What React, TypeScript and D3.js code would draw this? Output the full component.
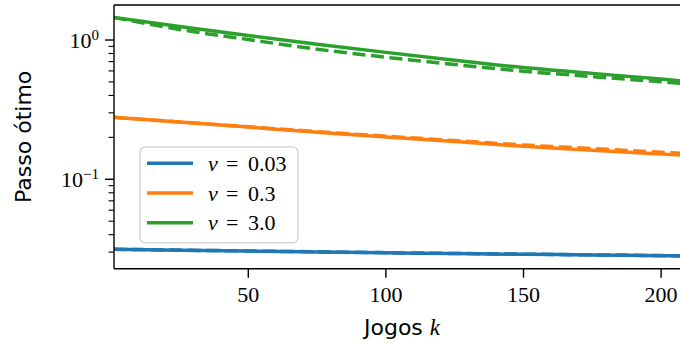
import React, { useEffect, useRef } from "react";
import * as d3 from "d3";

const games = [1, 25, 50, 75, 100, 125, 150, 175, 200, 210];

// optimal step, solid = one estimate, dashed = the other
const solid003 = [0.03145, 0.03097, 0.03052, 0.03007, 0.02967, 0.02928, 0.02894, 0.02861, 0.02827, 0.02813];
const dashed003 = [0.03145, 0.031, 0.03057, 0.03013, 0.02973, 0.02934, 0.029, 0.02866, 0.02832, 0.02818];
const solid03 = [0.2787, 0.2574, 0.2369, 0.2179, 0.2012, 0.1865, 0.1725, 0.1618, 0.1519, 0.1482];
const dashed03 = [0.2787, 0.2578, 0.2381, 0.22, 0.2039, 0.1896, 0.1763, 0.1661, 0.1565, 0.1529];
const solid3 = [1.455, 1.252, 1.077, 0.933, 0.815, 0.716, 0.635, 0.576, 0.524, 0.504];
const dashed3 = [1.455, 1.191, 1.008, 0.859, 0.752, 0.667, 0.597, 0.546, 0.501, 0.483];

const seriesLabels = ["0.03", "0.3", "3.0"];
const colors = ["#1f77b4", "#ff7f0e", "#2ca02c"];

const xTicks = [50, 100, 150, 200];
const yMajor = [1, 0.1];
const yMajorExp = ["0", "\u22121"];
const yMinor = [0.03, 0.04, 0.05, 0.06, 0.07, 0.08, 0.09, 0.2, 0.3, 0.4, 0.5, 0.6, 0.7, 0.8, 0.9];

const W = 680;
const H = 344;
const margin = { left: 114, top: 5, right: 690, bottom: 268.7 };

const App: React.FC = () => {
  const svgRef = useRef<SVGSVGElement | null>(null);

  useEffect(() => {
    const el = svgRef.current;
    if (!el) return;
    const svg = d3.select(el);
    svg.selectAll("*").remove();

    const x = d3.scaleLinear().domain([1.2, 210.5]).range([margin.left, margin.right]);
    const y = d3.scaleLog().domain([0.0228, 1.784]).range([margin.bottom, margin.top]);

    svg.append("defs")
      .append("clipPath")
      .attr("id", "plot-clip")
      .append("rect")
      .attr("x", margin.left)
      .attr("y", margin.top)
      .attr("width", margin.right - margin.left)
      .attr("height", margin.bottom - margin.top);

    const line = d3
      .line<number>()
      .x((_, i) => x(games[i]))
      .y((d) => y(d))
      .curve(d3.curveMonotoneX);

    const curves = [
      { vals: solid003, c: 0, dash: null },
      { vals: dashed003, c: 0, dash: "13,5.6" },
      { vals: solid03, c: 1, dash: null },
      { vals: dashed03, c: 1, dash: "13,5.6" },
      { vals: solid3, c: 2, dash: null },
      { vals: dashed3, c: 2, dash: "13,5.6" },
    ];

    const lines = svg.append("g").attr("clip-path", "url(#plot-clip)");
    curves.forEach((cv) => {
      lines
        .append("path")
        .datum(cv.vals)
        .attr("d", line)
        .attr("fill", "none")
        .attr("stroke", colors[cv.c])
        .attr("stroke-width", 3.5)
        .attr("stroke-dasharray", cv.dash);
    });

    // spines
    const ax = svg.append("g").attr("stroke", "#000").attr("stroke-width", 1.4);
    ax.append("line").attr("x1", margin.left).attr("x2", margin.left).attr("y1", margin.top).attr("y2", margin.bottom);
    ax.append("line").attr("x1", margin.left).attr("x2", margin.right).attr("y1", margin.bottom).attr("y2", margin.bottom);
    ax.append("line").attr("x1", margin.left).attr("x2", margin.right).attr("y1", margin.top).attr("y2", margin.top);

    // x ticks
    xTicks.forEach((t) => {
      ax.append("line").attr("x1", x(t)).attr("x2", x(t)).attr("y1", margin.bottom).attr("y2", margin.bottom + 9);
      svg.append("text")
        .attr("x", x(t))
        .attr("y", margin.bottom + 33)
        .attr("text-anchor", "middle")
        .attr("font-family", "Liberation Serif")
        .attr("font-size", 22)
        .text(String(t));
    });

    // y ticks
    yMinor.forEach((t) => {
      ax.append("line").attr("x1", margin.left - 5.5).attr("x2", margin.left).attr("y1", y(t)).attr("y2", y(t)).attr("stroke-width", 1.1);
    });
    yMajor.forEach((t, i) => {
      ax.append("line").attr("x1", margin.left - 9).attr("x2", margin.left).attr("y1", y(t)).attr("y2", y(t));
      const tx = svg.append("text")
        .attr("x", 99)
        .attr("y", y(t) + 7.7)
        .attr("text-anchor", "end")
        .attr("font-family", "Liberation Serif")
        .attr("font-size", 22);
      tx.append("tspan").text("10");
      tx.append("tspan").attr("font-size", 15).attr("dy", -8).text(yMajorExp[i]);
    });

    // axis labels
    const xl = svg.append("text")
      .attr("x", (margin.left + margin.right) / 2)
      .attr("y", 335)
      .attr("text-anchor", "middle")
      .attr("font-family", "DejaVu Sans")
      .attr("font-size", 22);
    xl.append("tspan").text("Jogos ");
    xl.append("tspan").attr("font-family", "Liberation Serif").attr("font-style", "italic").attr("font-size", 23).text("k");

    svg.append("text")
      .attr("transform", `translate(31,${(margin.top + margin.bottom) / 2}) rotate(-90)`)
      .attr("text-anchor", "middle")
      .attr("font-family", "DejaVu Sans")
      .attr("font-size", 22)
      .text("Passo ótimo");

    // legend
    const lg = svg.append("g");
    lg.append("rect")
      .attr("x", 140)
      .attr("y", 147)
      .attr("width", 158)
      .attr("height", 95.7)
      .attr("rx", 5)
      .attr("fill", "#fff")
      .attr("fill-opacity", 0.8)
      .attr("stroke", "#d6d6d6")
      .attr("stroke-width", 1.5);
    seriesLabels.forEach((lab, i) => {
      const ly = 163.3 + i * 29.7;
      lg.append("line")
        .attr("x1", 147).attr("x2", 193)
        .attr("y1", ly).attr("y2", ly)
        .attr("stroke", colors[i])
        .attr("stroke-width", 3.5);
      const t = lg.append("text")
        .attr("y", ly + 7.5)
        .attr("font-family", "Liberation Serif")
        .attr("font-size", 22);
      t.append("tspan").attr("x", 208).attr("font-style", "italic").text("v");
      t.append("tspan").attr("x", 226).text("=");
      t.append("tspan").attr("x", 248).text(lab);
    });
  }, []);

  return (
    <div>
      <svg
        ref={svgRef}
        width={W}
        height={H}
        style={{ position: "absolute", left: 0, top: 0, background: "#fff" }}
      ></svg>
    </div>
  );
};

export default App;
